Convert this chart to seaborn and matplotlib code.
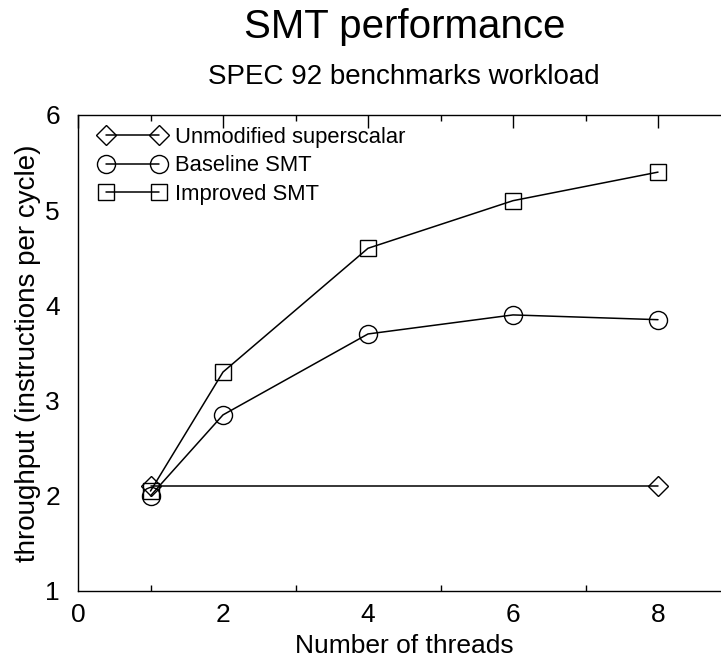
import matplotlib
matplotlib.use("Agg")
import matplotlib.pyplot as plt
from matplotlib.ticker import MultipleLocator
import seaborn as sns
import pandas as pd

# Throughput per thread count for each processor design
unmod_threads = [1, 8]
unmod_ipc = [2.1, 2.1]
baseline_threads = [1, 2, 4, 6, 8]
baseline_ipc = [2.0, 2.85, 3.7, 3.9, 3.85]
improved_threads = [1, 2, 4, 6, 8]
improved_ipc = [2.05, 3.3, 4.6, 5.1, 5.4]

series_names = ["Unmodified superscalar", "Baseline SMT", "Improved SMT"]
x_ticks = [0, 2, 4, 6, 8]
y_ticks = [1, 2, 3, 4, 5, 6]

df = pd.concat([
    pd.DataFrame({"threads": unmod_threads, "ipc": unmod_ipc, "design": series_names[0]}),
    pd.DataFrame({"threads": baseline_threads, "ipc": baseline_ipc, "design": series_names[1]}),
    pd.DataFrame({"threads": improved_threads, "ipc": improved_ipc, "design": series_names[2]}),
])

sns.set_theme(style="white")
plt.rcParams["font.family"] = ["Liberation Sans", "DejaVu Sans"]
plt.rcParams["text.color"] = "black"
plt.rcParams["axes.labelcolor"] = "black"
plt.rcParams["xtick.color"] = "black"
plt.rcParams["ytick.color"] = "black"

fig = plt.figure(figsize=(7.21, 6.63), dpi=100)
W, H = 721, 663
left, right, top, bottom = 78, 730.5, 115, 591
ax = fig.add_axes([left / W, 1 - bottom / H, (right - left) / W, (bottom - top) / H])

markers = {series_names[0]: "D", series_names[1]: "o", series_names[2]: "s"}
sizes = {series_names[0]: 10, series_names[1]: 13, series_names[2]: 11}

for name in series_names:
    sub = df[df["design"] == name]
    sns.lineplot(data=sub, x="threads", y="ipc", ax=ax, color="black", lw=1.1,
                 marker=markers[name], markersize=sizes[name],
                 markerfacecolor="none", markeredgecolor="black",
                 markeredgewidth=1.0, label=name, estimator=None, sort=False)

ax.set_xlim(0, 9)
ax.set_ylim(1, 6)
ax.set_xticks(x_ticks)
ax.set_yticks(y_ticks)
ax.xaxis.set_minor_locator(MultipleLocator(1))
ax.tick_params(axis="both", which="major", direction="in", length=9, width=1,
               labelsize=19, top=True, right=False, labelcolor="black")
ax.tick_params(axis="x", which="major", pad=9)
ax.tick_params(axis="y", which="major", pad=13)
ax.tick_params(axis="x", which="minor", direction="in", length=4.5, width=1,
               top=True, bottom=True)
for s in ax.spines.values():
    s.set_color("black")
    s.set_linewidth(1.0)

ax.set_xlabel("Number of threads", fontsize=19, labelpad=5)
ax.set_ylabel("throughput (instructions per cycle)", fontsize=20, labelpad=3)
ax.set_title("SPEC 92 benchmarks workload", fontsize=20, pad=22, color="black")
fig.text((left + right) / 2 / W, 1 - 38 / H, "SMT performance", fontsize=29,
         ha="center", va="baseline", color="black")

leg = ax.legend(loc="upper left", frameon=False, numpoints=2, fontsize=15.8,
                handlelength=3.0, handletextpad=0.45, labelspacing=0.33,
                borderaxespad=0.15, bbox_to_anchor=(0.0147, 1.0))

fig.savefig("out.png", dpi=100)
